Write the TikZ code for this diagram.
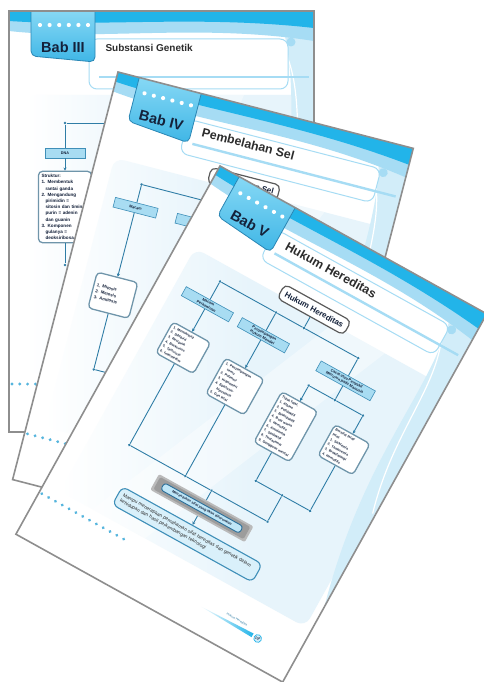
\documentclass[tikz,border=0pt]{standalone}
\usepackage{fontspec}
\setmainfont{Liberation Sans}
\usetikzlibrary{positioning,calc,arrows.meta}

\definecolor{pageedge}{HTML}{8E8E8E}
\definecolor{babcyan}{HTML}{22B4E9}
\definecolor{babwave}{HTML}{A6DCF4}
\definecolor{decoblue}{HTML}{D2EDF9}
\definecolor{tabtop}{HTML}{86D8F5}
\definecolor{tabbot}{HTML}{3FB6E6}
\definecolor{tabline}{HTML}{2A86B4}
\definecolor{babink}{HTML}{14213A}
\definecolor{titleink}{HTML}{2C2C2C}
\definecolor{mapbg}{HTML}{E7F4FB}
\definecolor{linkcol}{HTML}{2F7DA6}
\definecolor{catfill}{HTML}{A8DCF2}
\definecolor{catline}{HTML}{3F8FB8}
\definecolor{listline}{HTML}{6F95AA}
\definecolor{rootline}{HTML}{5A5A5A}
\definecolor{dotblue}{HTML}{55B5DD}
\definecolor{keygray}{HTML}{9C9C9C}
\definecolor{keyfill}{HTML}{BFE6F7}
\definecolor{keyline}{HTML}{2B6F9A}

\newcommand{\catfont}{\fontsize{3.8}{4.4}\selectfont\bfseries}
\newcommand{\listfont}{\fontsize{3.4}{5.4}\selectfont\bfseries}
\newcommand{\ind}{\hspace*{4pt}}

% one chapter sheet, drawn in sheet coordinates (305 x 421)
% #1 tab text, #2 title, #3 title size, #4 height of the title rule
\newcommand{\babpage}[4]{%
  \fill[white] (0,0) rectangle (305,421);
  % pale field behind the concept map
  \shade[left color=white, right color=mapbg, middle color=mapbg, rounded corners=10pt] (18,84) rectangle (298,362);
  \fill[white, opacity=.4] (175,84) -- (235,84) -- (115,362) -- (55,362) -- cycle;
  % swirl on the right border
  \fill[decoblue] (268,0) .. controls (300,80) and (262,170) .. (305,335) -- (305,0) -- cycle;
  \draw[white, line width=1.2pt] (276,40) .. controls (298,90) and (280,150) .. (302,230);
  % header waves
  \fill[babwave] (0,0) -- (0,20) .. controls (90,30) and (190,12) .. (305,30) -- (305,0) -- cycle;
  \fill[babcyan] (0,0) -- (0,10) .. controls (90,16) and (190,4) .. (305,17) -- (305,0) -- cycle;
  % title panel
  \draw[babwave, line width=1pt, fill=white, rounded corners=8pt] (80,28) rectangle (279,#4+12);
  \fill[babwave] (282,31) circle (4.5pt);
  \draw[babwave, line width=2.4pt] (90,#4) -- (300,#4);
  \node[anchor=west, text=titleink, font=\fontsize{#3}{#3}\selectfont\bfseries] (title) at (93,37) {#2};
  % chapter tab
  \draw[tabline, line width=0.8pt, top color=tabtop, bottom color=tabbot, rounded corners=5pt]
    (22,0) -- (22,45) -- (86,51) -- (86,0);
  \foreach \k in {0,...,5} \fill[white] (31+9.6*\k,14) circle (2.1pt);
  \node[text=babink, font=\fontsize{14.5}{15}\selectfont\bfseries] (tab) at (54,36) {#1};
  % dotted rule at the foot
  \foreach \k in {0,...,12} \fill[dotblue] (3+7.8*\k,373) circle (1.6pt);
  \draw[pageedge, line width=1.6pt] (0,0) rectangle (305,421);
}

\begin{document}
\begin{tikzpicture}[x=1pt, y=-1pt,
    link/.style={linkcol, line width=0.9pt},
    arr/.style={link, -{Stealth[length=3.2pt, width=3.2pt]}},
    jdot/.style={circle, fill=linkcol, inner sep=0pt, minimum size=2.8pt},
    catbox/.style={draw=catline, fill=catfill, line width=0.6pt, align=center,
      text=babink, font=\catfont, inner sep=1.6pt, minimum height=10pt},
    listbox/.style={draw=listline, fill=white, line width=1.3pt, rounded corners=4pt,
      align=left, text=babink, font=\listfont, inner sep=3pt},
    rootbox/.style={draw=rootline, fill=white, line width=1.2pt, rounded corners=5pt,
      text=babink, font=\fontsize{8}{9}\selectfont\bfseries, inner xsep=5pt, minimum height=16pt}]
  \useasboundingbox (0,0) rectangle (484,682);

  % Bab III
  \begin{scope}[shift={(9,11)}]
    \babpage{Bab III}{Substansi Genetik}{10}{66}
    \node[rootbox] (sg) at (150,97) {Substansi Genetik};
    \node[jdot] (s0) at (56,112) {};
    \node[jdot] (s1) at (150,112) {};
    \coordinate (s2) at (260,112);
    \node[catbox, minimum width=40pt] (dna) at (56,142) {DNA};
    \node[listbox, font=\fontsize{4.6}{6.2}\selectfont\bfseries, text width=47pt] (struktur) at (56,196)
      {Struktur:\\1. Membentuk\\\ind rantai ganda\\2. Mengandung\\\ind pirimidin =\\\ind sitosin dan timin,\\\ind purin = adenin\\\ind dan guanin\\3. Komponen\\\ind gulanya =\\\ind deoksiribosa};
    \node[jdot] (s3) at (56,254) {};
    \coordinate (s4) at (150,254);
    \draw[link] (sg) -- (s1);
    \draw[link] (s0) -- (s1) -- (s2);
    \draw[link] (s0) -- (dna);
    \draw[arr] (dna) -- (struktur);
    \draw[link] (struktur) -- (s3) -- (s4);
  \end{scope}

  % Bab IV
  \begin{scope}[shift={(118,72)}, rotate=-14.5, transform shape]
    \babpage{Bab IV}{Pembelahan Sel}{12.4}{51}
    \node[rootbox] (ps) at (150,77) {Pembelahan Sel};
    \node[jdot] (p0) at (51,103) {};
    \node[jdot] (p1) at (115,103) {};
    \node[jdot] (p2) at (150,103) {};
    \coordinate (p3) at (250,103);
    \node[catbox, minimum width=44pt] (macam) at (51,127) {Macam};
    \node[catbox, minimum width=44pt] (tahap) at (115,127) {Tahapan};
    \node[listbox, font=\fontsize{4.3}{6}\selectfont\bfseries, text width=36pt,
      minimum height=37pt, below=66pt of macam] (jenis) {1. Mitosis\\2. Meiosis\\3. Amitosis};
    \node[jdot] (p4) at (51,294) {};
    \coordinate (p5) at (150,294);
    \draw[link] (ps) -- (p2);
    \draw[link] (p0) -- (p1) -- (p2) -- (p3);
    \draw[link] (p0) -- (macam);
    \draw[link] (p1) -- (tahap);
    \draw[arr] (macam) -- (jenis);
    \draw[link] (jenis) -- (p4) -- (p5);
  \end{scope}

  % Bab V
  \begin{scope}[shift={(220,166)}, rotate=-29, transform shape]
    \babpage{Bab V}{Hukum Hereditas}{12.4}{50}
    \node[rootbox] (hh) at (152,80) {Hukum Hereditas};
    \node[jdot] (h0) at (56,101) {};
    \node[jdot] (h1) at (120,101) {};
    \node[jdot] (h2) at (152,101) {};
    \node[jdot] (h3) at (214,101) {};
    \node[catbox, minimum width=54pt] (kawin) at (56,127) {Macam\\Perkawinan};
    \node[catbox, minimum width=54pt] (simpang) at (120,127) {Penyimpangan\\Hukum Mendel};
    \node[catbox, minimum width=62pt] (cacat) at (214,127) {Cacat atau Penyakit\\Menurun pada Manusia};
    \node[listbox, text width=37pt, below=26pt of kawin] (kawinlist)
      {1. Monohibrid\\2. Dihibrid\\3. Resiprok\\4. Backcross\\5. Testcross\\6. Intermedier};
    \node[listbox, text width=38pt, below=32pt of simpang] (simpanglist)
      {1. Penyimpangan\\\ind semu\\2. Polimeri\\3. Kriptomeri\\4. Epistasis-\\\ind hipostasis\\5. Gen letal};
    \node[jdot] (c0) at (214,149) {};
    \node[jdot] (c1) at (184,149) {};
    \node[jdot] (c2) at (246,149) {};
    \node[listbox, text width=35pt, below=16pt of c1] (tidak)
      {Tidak fatal:\\1. Albino\\2. Polidaktili\\3. Brakidaktili\\4. Buta warna\\5. Hemofilia\\6. Anodontia\\7. Sindaktili\\8. Thalasemia\\9. Gangguan mental};
    \node[listbox, text width=34pt, below=19pt of c2] (fatal)
      {Bersifat fatal/\\letal:\\1. Sicklemia\\2. Thalasemia\\3. Brakifalangi\\4. Hemofilia};
    \node[jdot] (d0) at (214,258) {};
    \node[jdot] (d1) at (184,258) {};
    \node[jdot] (d2) at (246,258) {};
    \node[jdot] (d3) at (214,288) {};
    \node[jdot] (e0) at (56,288) {};
    \node[jdot] (e1) at (120,288) {};
    \node[jdot] (e2) at (150,288) {};
    \node[fill=keygray!70, rounded corners=2pt, minimum width=108pt, minimum height=18pt] (kuncihalo) at (150,308) {};
    \node[fill=keygray, rounded corners=1.5pt, minimum width=103pt, minimum height=14pt] (kunci) at (150,308) {};
    \node[draw=keyline, fill=keyfill, line width=0.9pt, rounded corners=3pt, minimum width=90pt,
      minimum height=8pt, inner sep=1pt, text=babink, font=\fontsize{3.6}{4}\selectfont\bfseries] (kuncitext) at (kunci)
      {Menentukan sifat yang akan diturunkan};
    \node[draw=catline, fill=keyfill!60, line width=1.1pt, rounded corners=6pt, align=left, text width=150pt,
      inner sep=5pt, text=titleink, font=\fontsize{4.8}{6.2}\selectfont] (akhir) at (150,338)
      {Mampu menerapkan pemahaman sifat hereditas dan genetik dalam\\kehidupan dan hasil perkembangan teknologi};
    \draw[link] (hh) -- (h2);
    \draw[link] (h0) -- (h1) -- (h2) -- (h3);
    \draw[link] (h0) -- (kawin);
    \draw[link] (h1) -- (simpang);
    \draw[link] (h3) -- (cacat);
    \draw[arr] (kawin) -- (kawinlist);
    \draw[arr] (simpang) -- (simpanglist);
    \draw[link] (cacat) -- (c0);
    \draw[link] (c1) -- (c0) -- (c2);
    \draw[arr] (c1) -- (tidak);
    \draw[arr] (c2) -- (fatal);
    \draw[link] (tidak) -- (d1);
    \draw[link] (fatal) -- (d2);
    \draw[link] (d1) -- (d0) -- (d2);
    \draw[link] (d0) -- (d3);
    \draw[link] (kawinlist) -- (e0);
    \draw[link] (simpanglist) -- (e1);
    \draw[link] (e0) -- (e1) -- (e2) -- (d3);
    \draw[link] (e2) -- (kuncihalo);
    \draw[arr] (kuncihalo) -- (akhir);
    % page foot
    \shade[left color=white, right color=babcyan] (196,394.5) -- (256,392.6) -- (256,396.8) -- cycle;
    \node[circle, draw=babcyan, fill=babwave!50, line width=0.7pt, inner sep=0.6pt, text=babink,
      font=\fontsize{3.4}{4}\selectfont\bfseries] (nomor) at (262,395) {107};
    \node[anchor=south east, text=linkcol, font=\fontsize{3}{3}\selectfont] (bab) at (250,393) {Hukum Hereditas};
  \end{scope}
\end{tikzpicture}
\end{document}
